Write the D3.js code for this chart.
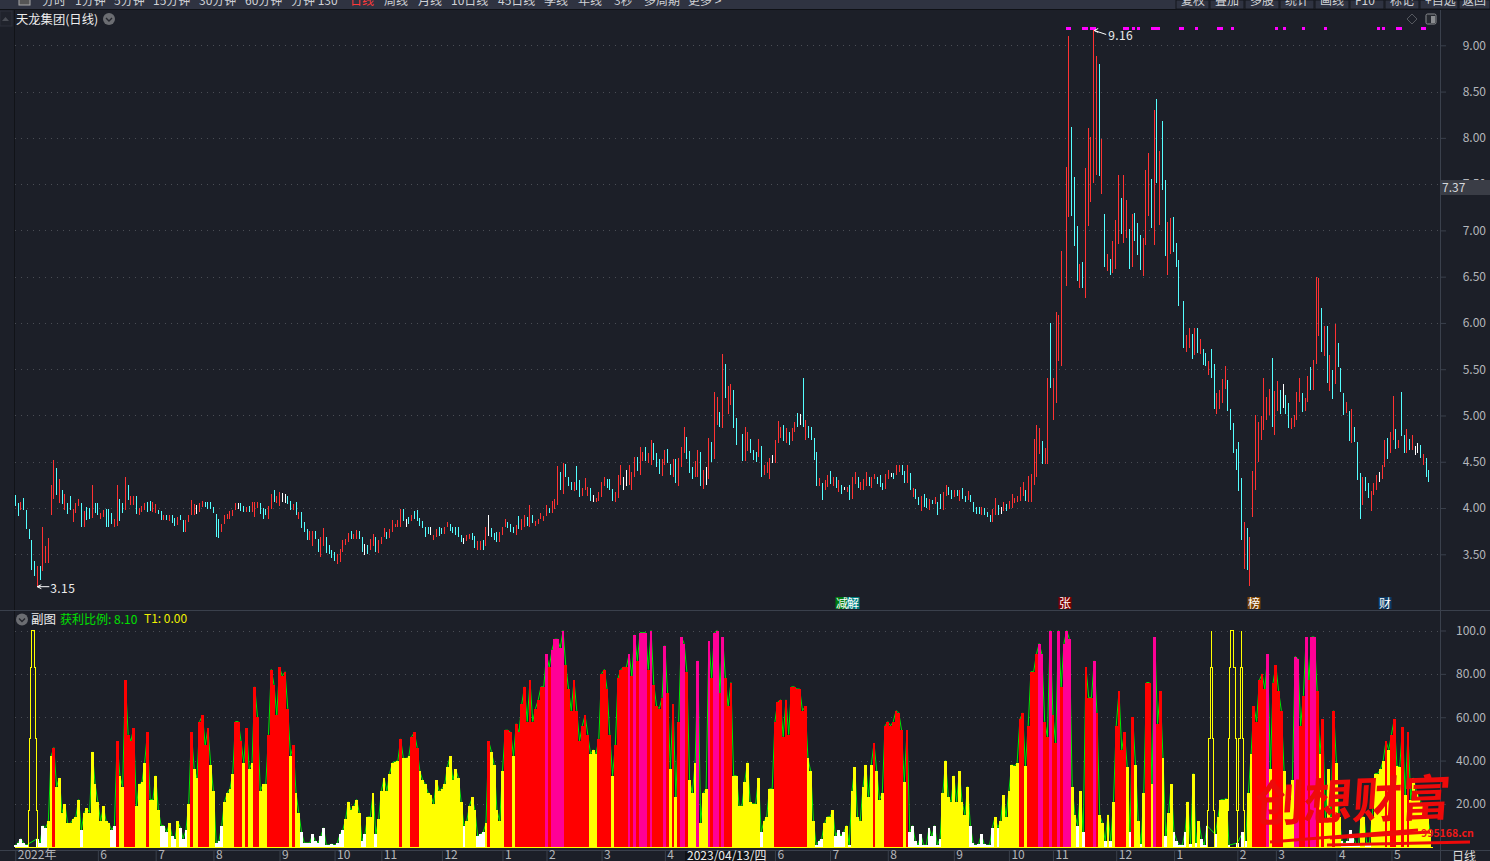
<!DOCTYPE html>
<html><head><meta charset="utf-8">
<script src="https://cdnjs.cloudflare.com/ajax/libs/d3/7.8.5/d3.min.js"></script>
<style>html,body{margin:0;padding:0;background:#1c1f28;overflow:hidden}text{font-family:"Noto Sans CJK SC","Noto Sans",sans-serif}</style>
</head><body><svg id="c" width="1490" height="861"></svg>
<script>
// [high, low, kind] r=up c=down w=flat
const candlesA=[[4.14,4.02,'c'],[4.05,3.91,'c'],[4.07,3.98,'r'],[4.11,3.98,'c'],[3.98,3.77,'c'],[3.77,3.66,'c'],[3.65,3.33,'c'],[3.43,3.27,'c'],[3.37,3.15,'r'],[3.37,3.22,'c'],
[3.79,3.32,'r'],[3.59,3.41,'r'],[3.68,3.41,'r'],[4.25,3.92,'r'],[4.52,4.10,'r'],[4.43,4.14,'c'],[4.31,4.05,'r'],[4.20,4.04,'c'],[4.15,3.98,'r'],[4.05,3.94,'c'],
[4.13,3.98,'c'],[3.99,3.85,'r'],[4.05,3.95,'r'],[4.10,4.02,'r'],[4.05,3.79,'c'],[3.97,3.80,'r'],[4.01,3.87,'c'],[4.00,3.88,'c'],[4.25,3.89,'r'],[4.05,3.95,'c'],
[4.05,3.92,'c'],[3.95,3.88,'r'],[3.98,3.90,'r'],[3.99,3.79,'c'],[3.99,3.79,'c'],[3.95,3.83,'c'],[3.88,3.80,'r'],[4.25,3.81,'r'],[4.10,3.86,'c'],[4.05,3.95,'c'],
[4.34,3.98,'r'],[4.25,4.09,'c'],[4.13,4.03,'r'],[4.13,4.03,'r'],[4.13,3.94,'c'],[4.00,3.93,'r'],[4.02,3.96,'r'],[4.05,3.98,'r'],[4.07,3.96,'c'],[4.08,3.97,'c'],
[4.06,3.96,'r'],[4.04,3.95,'r'],[3.98,3.94,'c'],[3.97,3.87,'c'],[3.93,3.87,'r'],[3.92,3.87,'c'],[3.93,3.86,'r'],[3.92,3.84,'c'],[3.89,3.81,'c'],[3.90,3.82,'r'],
[3.92,3.87,'c'],[3.87,3.74,'c'],[3.87,3.74,'r'],[3.93,3.85,'r'],[4.09,3.93,'r'],[4.04,3.93,'r'],[4.03,3.94,'w'],[4.05,3.96,'r'],[4.08,4.01,'r'],[4.07,4.01,'c'],
[4.06,3.99,'c'],[4.06,3.99,'c'],[4.01,3.95,'c'],[3.94,3.69,'c'],[3.88,3.68,'c'],[3.83,3.74,'r'],[3.92,3.83,'r'],[3.94,3.88,'r'],[3.97,3.88,'r'],[3.98,3.91,'r'],
[4.05,3.98,'r'],[4.05,3.99,'w'],[4.05,3.97,'c'],[4.02,3.96,'c'],[4.01,3.96,'r'],[4.02,3.96,'c'],[4.07,3.96,'r'],[4.07,3.90,'r'],[4.07,4.00,'r'],[4.05,3.94,'c'],
[4.00,3.88,'c'],[3.99,3.93,'c'],[4.02,3.88,'r'],[4.15,3.99,'r'],[4.19,4.06,'c'],[4.13,4.05,'r'],[4.17,4.02,'r'],[4.16,4.06,'w'],[4.15,4.05,'w'],[4.13,4.04,'c'],
[4.08,3.98,'c'],[4.04,3.98,'r'],[4.06,3.92,'c'],[3.96,3.88,'r'],[3.96,3.78,'c'],[3.85,3.74,'c'],[3.77,3.65,'c'],[3.75,3.65,'r'],[3.75,3.59,'r'],[3.75,3.66,'c'],
[3.67,3.52,'c'],[3.69,3.47,'r'],[3.78,3.59,'r'],[3.69,3.51,'c'],[3.60,3.50,'c'],[3.55,3.46,'c'],[3.52,3.43,'c'],[3.50,3.39,'r'],[3.56,3.42,'r'],[3.65,3.53,'r'],
[3.66,3.60,'r'],[3.73,3.63,'r'],[3.75,3.66,'c'],[3.72,3.66,'r'],[3.76,3.66,'r'],[3.75,3.66,'c'],[3.69,3.52,'c'],[3.61,3.49,'w'],[3.60,3.50,'c']];
const candlesB=[[3.66,3.55,'r'],[3.72,3.59,'r'],[3.69,3.53,'c'],[3.65,3.51,'r'],[3.69,3.61,'r'],[3.78,3.69,'r'],[3.74,3.67,'c'],[3.77,3.68,'r'],[3.87,3.74,'r'],[3.83,3.79,'r'],
[3.87,3.79,'r'],[3.99,3.79,'r'],[3.99,3.86,'c'],[3.88,3.80,'w'],[3.90,3.83,'c'],[3.92,3.86,'r'],[3.97,3.88,'c'],[3.98,3.86,'c'],[3.89,3.81,'c'],[3.86,3.78,'c'],
[3.80,3.69,'c'],[3.80,3.72,'c'],[3.79,3.71,'w'],[3.71,3.65,'r'],[3.77,3.69,'r'],[3.79,3.70,'c'],[3.78,3.72,'c'],[3.79,3.72,'r'],[3.85,3.79,'r'],[3.83,3.75,'c'],
[3.80,3.73,'c'],[3.79,3.71,'c'],[3.79,3.69,'c'],[3.71,3.63,'c'],[3.68,3.61,'w'],[3.71,3.64,'r'],[3.72,3.66,'r'],[3.73,3.65,'c'],[3.70,3.57,'c'],[3.64,3.55,'r'],
[3.64,3.55,'r'],[3.65,3.55,'c'],[3.79,3.59,'r'],[3.92,3.70,'w'],[3.78,3.69,'c'],[3.73,3.65,'c'],[3.74,3.63,'c'],[3.74,3.63,'r'],[3.80,3.71,'r'],[3.88,3.79,'r'],
[3.85,3.78,'c'],[3.83,3.74,'c'],[3.79,3.73,'c'],[3.82,3.71,'r'],[3.91,3.77,'c'],[3.88,3.76,'r'],[3.93,3.79,'r'],[3.90,3.81,'c'],[4.03,3.79,'r'],[3.92,3.84,'c'],
[3.86,3.81,'r'],[3.88,3.83,'r'],[3.95,3.88,'r'],[3.91,3.86,'r'],[4.03,3.91,'r'],[4.00,3.95,'c'],[4.08,3.95,'r'],[4.10,3.99,'r'],[4.45,4.03,'r'],[4.39,4.19,'c'],
[4.49,4.15,'r'],[4.48,4.33,'c'],[4.33,4.24,'c'],[4.28,4.20,'c'],[4.28,4.18,'r'],[4.45,4.19,'c'],[4.30,4.12,'c'],[4.22,4.13,'r'],[4.32,4.19,'r'],[4.23,4.13,'r'],
[4.22,4.08,'c'],[4.14,4.07,'w'],[4.11,4.06,'r'],[4.17,4.08,'r'],[4.28,4.12,'r'],[4.33,4.24,'r'],[4.31,4.22,'c'],[4.31,4.19,'c'],[4.21,4.08,'c'],[4.17,4.06,'r'],
[4.36,4.11,'r'],[4.46,4.25,'r'],[4.33,4.20,'w'],[4.41,4.24,'w'],[4.46,4.25,'r'],[4.39,4.20,'r'],[4.55,4.33,'r'],[4.55,4.40,'c'],[4.66,4.36,'r'],[4.61,4.51,'r'],
[4.66,4.51,'c'],[4.60,4.49,'r'],[4.73,4.46,'r'],[4.70,4.52,'c'],[4.59,4.44,'c'],[4.53,4.37,'c'],[4.53,4.35,'r'],[4.63,4.47,'r'],[4.64,4.49,'c'],[4.48,4.36,'c'],
[4.53,4.33,'r'],[4.53,4.27,'c'],[4.54,4.24,'r'],[4.66,4.44,'r'],[4.88,4.60,'r'],[4.77,4.53,'c'],[4.62,4.38,'c'],[4.44,4.31,'c'],[4.51,4.34,'r'],[4.63,4.34,'r'],
[4.61,4.24,'c'],[4.41,4.21,'r'],[4.44,4.25,'w'],[4.76,4.31,'r'],[4.71,4.50,'c'],[5.25,4.53,'r'],[5.20,4.90,'r'],[5.04,4.88,'c'],[5.66,4.86,'r'],[5.56,5.19,'c'],
[5.32,5.02,'r'],[5.34,5.11,'r'],[5.28,4.87,'c'],[4.97,4.68,'c']];
const candlesC=[[4.80,4.51,'c'],[4.88,4.51,'r'],[4.82,4.62,'r'],[4.75,4.60,'c'],[4.63,4.52,'c'],[4.61,4.50,'c'],[4.75,4.55,'r'],[4.67,4.33,'c'],[4.47,4.36,'r'],[4.50,4.38,'r'],
[4.54,4.31,'r'],[4.57,4.49,'w'],[4.74,4.49,'r'],[4.94,4.70,'r'],[4.88,4.76,'r'],[4.90,4.72,'c'],[4.87,4.70,'r'],[4.82,4.68,'c'],[4.87,4.72,'r'],[4.93,4.82,'r'],
[5.03,4.88,'c'],[5.02,4.90,'w'],[5.41,4.88,'c'],[4.95,4.74,'r'],[4.89,4.76,'c'],[4.88,4.74,'c'],[4.76,4.52,'c'],[4.61,4.24,'c'],[4.32,4.24,'r'],[4.27,4.09,'c'],
[4.30,4.19,'r'],[4.36,4.23,'r'],[4.40,4.26,'c'],[4.33,4.24,'r'],[4.34,4.22,'c'],[4.30,4.17,'r'],[4.25,4.15,'c'],[4.23,4.19,'w'],[4.23,4.17,'r'],[4.25,4.09,'c'],
[4.33,4.10,'r'],[4.39,4.26,'r'],[4.33,4.22,'c'],[4.28,4.20,'r'],[4.31,4.19,'r'],[4.39,4.24,'r'],[4.33,4.24,'c'],[4.33,4.22,'r'],[4.37,4.31,'r'],[4.34,4.26,'c'],
[4.36,4.23,'c'],[4.27,4.19,'c'],[4.37,4.21,'r'],[4.41,4.31,'r'],[4.38,4.33,'w'],[4.38,4.31,'c'],[4.47,4.36,'r'],[4.47,4.39,'r'],[4.47,4.36,'c'],[4.40,4.27,'c'],
[4.46,4.27,'r'],[4.38,4.20,'c'],[4.22,4.12,'r'],[4.21,4.10,'c'],[4.12,4.03,'c'],[4.13,3.97,'r'],[4.15,4.01,'c'],[4.11,4.00,'c'],[4.10,3.98,'r'],[4.09,4.04,'c'],
[4.12,4.04,'r'],[4.06,3.92,'c'],[4.15,3.99,'c'],[4.17,3.98,'r'],[4.25,4.13,'r'],[4.23,4.14,'c'],[4.19,4.10,'c'],[4.19,4.12,'r'],[4.19,4.13,'c'],[4.20,4.08,'r'],
[4.22,4.10,'c'],[4.13,4.06,'c'],[4.18,4.09,'r'],[4.14,4.06,'c'],[4.06,3.96,'c'],[4.01,3.94,'c'],[4.01,3.94,'c'],[4.01,3.92,'r'],[4.00,3.92,'c'],[3.96,3.90,'c'],
[3.93,3.85,'c'],[3.99,3.85,'r'],[4.11,3.92,'r'],[4.03,3.93,'c'],[4.01,3.94,'w'],[4.06,3.97,'r'],[4.04,3.97,'c'],[4.08,3.99,'r'],[4.15,4.00,'r'],[4.11,4.05,'r'],
[4.13,4.06,'r'],[4.23,4.08,'r'],[4.28,4.13,'r'],[4.19,4.08,'c'],[4.35,4.06,'r'],[4.37,4.06,'r'],[4.75,4.25,'r'],[4.90,4.34,'r'],[4.86,4.58,'r'],[4.72,4.48,'c'],
[4.65,4.48,'r'],[5.40,4.48,'r'],[6.00,5.30,'c'],[5.40,4.95,'r'],[6.12,5.14,'r'],[6.09,5.59,'r'],[6.78,5.54,'r']];
const candlesD=[[7.69,6.40,'r'],[9.10,7.15,'r'],[8.12,7.16,'c'],[7.58,6.83,'c'],[7.05,6.45,'c'],[6.64,6.38,'r'],[6.66,6.38,'c'],[7.67,6.27,'r'],[8.11,7.05,'r'],[8.01,7.31,'r'],
[9.16,7.51,'r'],[8.88,7.60,'r'],[8.80,7.59,'c'],[7.99,7.39,'r'],[7.18,6.60,'c'],[6.74,6.56,'r'],[6.69,6.52,'c'],[6.89,6.54,'r'],[7.11,6.58,'r'],[7.60,6.85,'r'],
[7.35,6.96,'c'],[7.60,6.86,'r'],[7.33,6.92,'r'],[7.01,6.58,'c'],[7.18,6.60,'r'],[7.19,6.89,'c'],[7.08,6.73,'c'],[6.95,6.57,'c'],[6.92,6.51,'r'],[7.65,6.84,'r'],
[7.84,7.16,'r'],[7.56,7.03,'c'],[8.30,6.84,'r'],[8.42,7.51,'c'],[7.86,7.06,'r'],[8.18,7.44,'c'],[7.54,6.72,'c'],[7.09,6.52,'r'],[7.13,6.74,'r'],[7.14,6.77,'c'],
[6.86,6.60,'c'],[6.68,6.18,'c']];
const candlesE=[[6.24,5.73,'c'],[5.87,5.69,'r'],[5.95,5.73,'r'],[5.88,5.61,'c'],[5.94,5.65,'r'],[5.95,5.67,'c'],[5.83,5.66,'r'],[5.72,5.55,'c'],
[5.68,5.53,'c'],[5.59,5.44,'r'],[5.72,5.41,'c'],[5.56,5.07,'c'],[5.24,5.02,'r'],[5.27,5.07,'r'],[5.39,5.14,'r'],[5.54,5.29,'r'],[5.38,5.05,'c'],[5.07,4.84,'c'],
[4.92,4.59,'c'],[4.64,4.41,'c'],[4.71,4.18,'c'],[4.32,3.65,'c'],[3.85,3.34,'r'],[3.78,3.33,'c'],[3.69,3.16,'r'],[4.40,3.90,'r'],[5.00,4.20,'r'],[4.93,4.50,'r'],
[4.99,4.74,'r'],[5.41,4.84,'r'],[5.20,4.95,'r'],[5.29,5.00,'r'],[5.62,4.88,'c'],[5.26,4.79,'r'],[5.37,5.05,'r'],[5.27,5.02,'c'],[5.34,5.08,'w'],[5.22,5.02,'c'],
[5.13,4.86,'c'],[4.97,4.85,'r'],[5.00,4.88,'r'],[5.25,4.95,'r'],[5.41,5.15,'r'],[5.24,5.04,'c'],[5.19,5.05,'r'],[5.43,5.15,'r'],[5.52,5.28,'c'],[5.60,5.28,'r'],
[6.50,5.56,'r'],[6.49,5.86,'r'],[6.16,5.69,'c'],[5.97,5.64,'r'],[5.97,5.35,'c'],[5.65,5.26,'r'],[5.49,5.18,'c'],[5.99,5.34,'r'],[5.78,5.52,'c'],[5.51,5.25,'c'],
[5.24,5.01,'c'],[5.15,5.03,'r'],[5.05,4.72,'c'],[5.07,4.70,'r'],[4.88,4.71,'c'],[4.71,4.30,'c'],[4.38,3.88,'c'],[4.33,4.03,'r'],[4.33,4.18,'c'],[4.27,4.11,'c'],
[4.18,3.97,'r'],[4.27,4.14,'r'],[4.36,4.19,'r'],[4.39,4.28,'w'],[4.47,4.31,'r'],[4.74,4.44,'r'],[4.76,4.53,'c'],[4.82,4.59,'r'],[5.21,4.74,'r'],[4.85,4.64,'c'],
[4.74,4.65,'r'],[5.25,4.78,'c'],[4.79,4.60,'c'],[4.85,4.60,'r'],[4.75,4.63,'c'],[4.79,4.63,'r'],[4.67,4.57,'w'],[4.70,4.59,'w'],[4.68,4.54,'c'],[4.58,4.46,'r'],
[4.54,4.34,'c'],[4.41,4.28,'c']];
const candleSectionStart=[0,129,264.2,381.8,424.6];

// [profit ratio, band] w=low y=middle r=high m=top
const profitA=[[1,'w'],[2,'w'],[4,'w'],[2,'w'],[1,'w'],[0,'w'],[0,'w'],[0,'w'],[4,'w'],[2,'w'],
[10,'w'],[9,'w'],[12,'y'],[42,'y'],[46,'r'],[28,'y'],[32,'y'],[16,'y'],[20,'y'],[11,'y'],
[11,'y'],[13,'y'],[14,'y'],[22,'y'],[8,'w'],[16,'y'],[18,'y'],[16,'y'],[44,'y'],[29,'y'],
[21,'y'],[12,'y'],[19,'y'],[12,'y'],[11,'y'],[8,'w'],[10,'w'],[49,'r'],[33,'y'],[28,'y'],
[77,'r'],[52,'r'],[49,'r'],[55,'r'],[19,'y'],[29,'y'],[30,'y'],[39,'y'],[53,'r'],[22,'y'],
[22,'y'],[33,'y'],[17,'y'],[10,'w'],[10,'w'],[7,'w'],[11,'y'],[5,'w'],[4,'w'],[12,'y'],
[9,'w'],[4,'w'],[8,'w'],[20,'y'],[53,'r'],[36,'y'],[32,'y'],[58,'r'],[61,'r'],[47,'r'],
[55,'r'],[38,'y'],[26,'y'],[2,'w'],[3,'w'],[10,'w'],[21,'y'],[25,'y'],[27,'y'],[34,'y'],
[58,'r'],[58,'r'],[49,'r'],[39,'y'],[55,'r'],[36,'y'],[39,'y'],[74,'r'],[60,'r'],[26,'y'],
[29,'y'],[29,'y'],[52,'r'],[82,'r'],[75,'r'],[61,'r'],[83,'r'],[79,'r'],[81,'r'],[64,'r'],
[42,'y'],[47,'r'],[25,'y'],[16,'y'],[7,'w'],[2,'w'],[2,'w'],[2,'w'],[6,'w'],[3,'w'],
[2,'w'],[5,'w'],[9,'w'],[1,'w'],[1,'w'],[1.5,'w'],[1,'w'],[2,'w'],[6,'w'],[8,'w'],
[13,'y'],[21,'y'],[17,'y'],[19,'y'],[22,'y'],[16,'y'],[3,'w'],[6,'w'],[14,'y']];
const profitB=[[14,'y'],[25,'y'],[6,'w'],[13,'y'],[26,'y'],[32,'y'],[26,'y'],[34,'y'],[39,'y'],[39.5,'y'],
[40,'y'],[50,'r'],[41,'y'],[41,'y'],[42,'y'],[51,'r'],[53,'r'],[46,'r'],[35,'y'],[31,'y'],
[29,'y'],[25,'y'],[24,'y'],[20,'y'],[31,'y'],[26,'y'],[27,'y'],[29,'y'],[37,'y'],[42,'y'],
[31,'y'],[36,'y'],[32,'y'],[21,'y'],[10,'w'],[12,'y'],[19,'y'],[23,'y'],[17,'y'],[5,'w'],
[6,'w'],[7,'w'],[11,'y'],[49,'r'],[44,'y'],[38,'y'],[17,'y'],[12,'y'],[35,'y'],[54,'r'],
[54,'r'],[53,'r'],[42,'y'],[57,'r'],[53,'r'],[66,'r'],[74,'r'],[58,'r'],[77,'r'],[58,'r'],
[64,'r'],[68,'r'],[74,'r'],[74,'r'],[89,'m'],[83,'r'],[91,'m'],[96,'m'],[96,'m'],[92,'m'],
[100,'m'],[84,'r'],[73,'r'],[63,'r'],[77,'r'],[63,'r'],[49,'r'],[56,'r'],[61,'r'],[52,'r'],
[43,'y'],[45,'y'],[43,'y'],[50,'r'],[80,'r'],[82,'r'],[73,'r'],[52,'r'],[33,'y'],[47,'r'],
[78,'r'],[82,'r'],[83,'r'],[83,'r'],[89,'m'],[79,'r'],[98,'m'],[86,'r'],[99,'m'],[99,'m'],
[99,'m'],[82,'r'],[100,'m'],[75,'r'],[65,'r'],[64,'r'],[69,'r'],[93,'m'],[71,'r'],[36,'y'],
[66,'r'],[23,'y'],[58,'r'],[97,'m'],[94,'m'],[81,'r'],[31,'y'],[25,'y'],[39,'y'],[86,'m'],
[11,'y'],[25,'y'],[27,'y'],[95,'m'],[78,'r'],[99,'m'],[100,'m'],[71,'r'],[97,'m'],[78,'r'],
[65,'r'],[76,'r'],[33,'y'],[33,'y']];
const profitC=[[19,'y'],[19,'y'],[30,'y'],[39,'y'],[21,'y'],[20,'y'],[20,'y'],[32,'y'],[7,'w'],[12,'y'],
[14,'y'],[27,'y'],[27,'y'],[58,'r'],[67,'r'],[68,'r'],[51,'r'],[68,'r'],[52,'r'],[74,'r'],
[74,'r'],[73,'r'],[73,'r'],[63,'r'],[65,'r'],[41,'y'],[35,'y'],[12,'y'],[1,'w'],[3,'w'],
[4,'w'],[11,'y'],[14,'y'],[14,'y'],[17,'y'],[5,'w'],[8,'w'],[5,'w'],[7,'w'],[10,'y'],
[1,'w'],[26,'y'],[37,'y'],[14,'y'],[12,'y'],[28,'y'],[38,'y'],[23,'y'],[38,'y'],[48,'r'],
[35,'y'],[22,'y'],[25,'y'],[56,'r'],[58,'r'],[56,'r'],[58,'r'],[63,'r'],[62,'r'],[54,'r'],
[30,'y'],[54,'r'],[7,'w'],[10,'w'],[3,'w'],[1,'w'],[6,'w'],[1,'w'],[1,'w'],[9,'w'],
[5,'w'],[10,'w'],[1,'w'],[4,'w'],[25,'y'],[40,'y'],[23,'y'],[21,'y'],[33,'y'],[21,'y'],
[35,'y'],[21,'y'],[15,'y'],[28,'y'],[10,'w'],[2,'w'],[1,'w'],[1.5,'w'],[6,'w'],[1.5,'w'],
[1,'w'],[1,'w'],[9,'w'],[14,'y'],[9,'w'],[12,'y'],[24,'y'],[14,'y'],[26,'y'],[38,'y'],
[37.5,'y'],[39,'y'],[59,'r'],[62,'r'],[37.5,'y'],[56,'r'],[81,'r'],[81,'r'],[89,'r'],[94,'m'],
[89,'m'],[58,'r'],[51,'r'],[100,'m'],[61,'r'],[48,'r'],[100,'m'],[74,'r'],[94,'m'],[100,'m'],
[96,'m'],[28,'y'],[15,'y'],[10,'w'],[26,'y'],[7,'w'],[83,'r'],[69,'r'],[69,'r'],[86,'m'],
[62,'r'],[15,'y'],[11,'y'],[3,'w'],[15,'y']];
const profitD=[[3,'w'],[21,'y'],[56,'r'],[72,'r'],[45,'r'],[53,'r'],[37,'y'],[7,'w'],[60,'r'],[38,'y'],
[12,'y'],[1.5,'w'],[25,'y'],[76,'r'],[76,'r'],[29,'y'],[97,'m'],[57,'r'],[72,'r'],[41,'y'],
[5,'w'],[16,'y'],[29,'y'],[7,'w'],[3,'w'],[1,'w'],[1,'w'],[7,'w'],[21,'y'],[1.5,'w'],
[34,'y'],[2,'w'],[12,'y'],[4,'w'],[1,'w'],[10,'w'],[0,'w'],[0,'w'],[6,'w'],[14,'y'],
[22,'y'],[22,'y'],[22.5,'y'],[1,'w'],[0,'w'],[0,'w'],[2,'w'],[0,'w'],[7,'w'],[3,'w'],
[25,'y'],[43,'y'],[65,'r'],[58,'r'],[77,'r'],[80,'r'],[73,'r'],[89,'m'],[36,'y'],[76,'r'],
[84,'r'],[72,'r'],[63,'r'],[35,'y'],[17,'y'],[22,'y'],[31,'y'],[88,'m'],[87,'m'],[56,'r'],
[70,'r'],[97,'m'],[77,'r'],[97,'m'],[97,'m'],[72,'r'],[43,'y'],[59,'r'],[13,'y'],[36,'y'],
[14,'y'],[63,'r'],[39,'y'],[14,'y'],[3,'w'],[2,'w'],[3,'w'],[8,'w'],[5,'w'],[2,'w'],
[1,'w'],[14,'y'],[14,'y'],[2,'w'],[2,'w'],[14,'y'],[34,'y'],[34,'y'],[36,'y'],[40,'y'],
[49,'r'],[45,'y'],[52,'r'],[59,'r'],[37.5,'y'],[37,'y'],[55.5,'r'],[24,'y'],[53,'r'],[22,'y'],
[32,'y'],[26,'y'],[23,'y'],[20,'y'],[17,'y'],[14,'y'],[8,'y']];
const profitSectionStart=[0,129,263,398];

const profitTowers=[6.4,434.5,442.1,445.4];
const towerLevels=[100,83,50,17];
const priceTicks=[9,8.5,8,7.5,7,6.5,6,5.5,5,4.5,4,3.5];
const profitTicks=[100,80,60,40,20];
const signalBars=[382,383,388,389,391,392,403,404,406,408,413,414,415,423,424,429,437,438,442,458,461,468,476,495,497,502,503,511,512];
const monthLabels=["2022年","6","7","8","9","10","11","12","1","2","3","4","6","7","8","9","10","11","12","1","2","3","4","5"];
const monthBars=[0,30,51,72,96,116,133,155,177,193,213,236,276,296,317,341,361,377,400,421,444,458,480,500];
const menuLeft=["分时","1分钟","5分钟","15分钟","30分钟","60分钟","分钟 130","日线","周线","月线","10日线","45日线","季线","年线","3秒","多周期","更多 >"];
const menuLeftX=[42,75,114,153,199,245,291,350,384,418,451,498,544,578,614,644,688];
const menuRight=["复权","叠加","多股","统计","画线","F10","标记","+自选","返回"];
const menuRightX=[1177,1211,1246,1281,1316,1351,1386,1421,1460];
const newsTags=[["减",842,"#007a10"],["解",853,"#007f80"],["张",1065,"#7c0000"],["榜",1254,"#7c4200"],["财",1385,"#0b3a66"]];

const svg=d3.select("#c");
const BG="#1c1f28",LINE="#3a404c",DOT="#4a4d55",AX="#b4b6bb";
svg.append("rect").attr("width",1490).attr("height",861).attr("fill",BG);

const x=d3.scaleLinear().domain([0,514]).range([15.3,1430]);
const yP=d3.scaleLinear().domain([3.5,9]).range([554.3,45.3]);
const yS=d3.scaleLinear().domain([0,100]).range([847.3,630.5]);

// frame
svg.append("rect").attr("x",0).attr("y",0).attr("width",1490).attr("height",9).attr("fill","#2f3341");
svg.append("line").attr("x1",0).attr("x2",1490).attr("y1",9.5).attr("y2",9.5).attr("stroke","#0f1116");
svg.append("line").attr("x1",14.5).attr("x2",14.5).attr("y1",10).attr("y2",849).attr("stroke","#111318");
svg.append("line").attr("x1",1440.5).attr("x2",1440.5).attr("y1",10).attr("y2",861).attr("stroke",LINE);
svg.append("line").attr("x1",0).attr("x2",1490).attr("y1",610.5).attr("y2",610.5).attr("stroke",LINE);
svg.append("line").attr("x1",0).attr("x2",1490).attr("y1",850.5).attr("y2",850.5).attr("stroke",LINE);

// toolbar
const tb=svg.append("g");
tb.selectAll("rect.b").data(menuRightX).join("rect").attr("x",d=>d-1).attr("y",0).attr("width",(d,i)=>(i<8?menuRightX[i+1]-d-1:31)).attr("height",9).attr("fill","#2f3341").attr("stroke","#15171d").attr("stroke-width",1);
tb.selectAll("text.l").data(menuLeft).join("text").attr("x",(d,i)=>menuLeftX[i]).attr("y",5).attr("font-size",12).attr("fill",d=>d==="日线"?"#ff3a3a":"#d0d2d6").text(d=>d);
tb.selectAll("text.r").data(menuRight).join("text").attr("x",(d,i)=>menuRightX[i]+(i<8?4:2)).attr("y",5).attr("font-size",12).attr("fill","#d0d2d6").text(d=>d);
tb.append("rect").attr("x",19).attr("y",-3).attr("width",11).attr("height",8).attr("fill","#555").attr("stroke","#aaa");
svg.append("rect").attr("x",0).attr("y",11).attr("width",12).attr("height",15).attr("fill","#20232c").attr("stroke","#2c303a");
svg.append("path").attr("d","M2 21 L5.5 17 L9 21 Z").attr("fill","#4a4d55");

// grids
const dotted=(g,ys)=>g.selectAll("line").data(ys).join("line").attr("x1",15).attr("x2",1440).attr("y1",d=>Math.round(d)+.5).attr("y2",d=>Math.round(d)+.5).attr("stroke",DOT).attr("stroke-dasharray","1 5");
dotted(svg.append("g"),priceTicks.map(yP));
dotted(svg.append("g"),profitTicks.map(yS));

// axes
const styleAxis=g=>{g.select(".domain").remove();g.selectAll("line").attr("stroke",LINE);g.selectAll("text").attr("fill",AX).attr("font-size",12).attr("text-anchor","end").attr("x",45).attr("font-family","Liberation Sans,Noto Sans,sans-serif");};
svg.append("g").attr("transform","translate(1441,0)").call(d3.axisRight(yP).tickValues(priceTicks).tickFormat(d3.format(".2f")).tickSize(5)).call(styleAxis);
svg.append("g").attr("transform","translate(1441,0)").call(d3.axisRight(yS).tickValues(profitTicks).tickFormat(d=>d===100?"100.0":d3.format(".2f")(d)).tickSize(5)).call(styleAxis);
svg.append("rect").attr("x",1441).attr("y",180).attr("width",49).attr("height",15).attr("fill","#3a3d46");
svg.append("text").attr("x",1442).attr("y",192).attr("font-size",12).attr("fill","#d6d8dc").attr("font-family","Liberation Sans,sans-serif").text("7.37");

// candles
const KC={r:"#ff3232",c:"#54ffff",w:"#ffffff"};
const candleRows=[candlesA,candlesB,candlesC,candlesD,candlesE].flatMap((s,k)=>s.map((d,j)=>({i:candleSectionStart[k]+j,h:d[0],l:d[1],k:d[2]})));
svg.append("g").attr("shape-rendering","crispEdges").selectAll("rect").data(candleRows).join("rect")
 .attr("x",d=>Math.floor(x(d.i))).attr("width",1)
 .attr("y",d=>yP(d.h)).attr("height",d=>yP(d.l)-yP(d.h)).attr("fill",d=>KC[d.k]);

// signal dashes
svg.append("g").attr("shape-rendering","crispEdges").selectAll("rect").data(signalBars).join("rect")
 .attr("x",d=>Math.round(x(d))-1).attr("width",3).attr("y",27).attr("height",3).attr("fill","#ff00ff");

// high / low annotations
const note=(i,p,dx,dy,ty,label)=>{const px=x(i),py=yP(p);
 svg.append("path").attr("d",`M${px+12} ${py+dy} L${px} ${py} M${px} ${py} l4 -2 M${px} ${py} l4 2`).attr("stroke","#fff").attr("fill","none");
 svg.append("text").attr("x",px+dx).attr("y",py+ty).attr("font-size",12).attr("fill","#eee").attr("font-family","Liberation Sans,sans-serif").attr("letter-spacing",".4").text(label);};
note(8,3.15,13,0,6,"3.15");
note(392,9.16,14,4,9.5,"9.16");

// news tags
const tags=svg.append("g");
tags.selectAll("rect").data(newsTags).join("rect").attr("x",d=>d[1]-6.5).attr("y",597).attr("width",13).attr("height",12).attr("fill",d=>d[2]);
tags.selectAll("text").data(newsTags).join("text").attr("x",d=>d[1]).attr("y",607.5).attr("text-anchor","middle").attr("font-size",12).attr("fill","#fff").text(d=>d[0]);

// titles
svg.append("text").attr("x",16).attr("y",24).attr("font-size",12.3).attr("fill","#eee").text("天龙集团(日线)");
const chev=(cx,cy)=>{svg.append("circle").attr("cx",cx).attr("cy",cy).attr("r",6).attr("fill","#6b6d72");svg.append("path").attr("d",`M${cx-3} ${cy-1} L${cx} ${cy+2} L${cx+3} ${cy-1}`).attr("stroke","#25272e").attr("stroke-width",1.4).attr("fill","none");};
chev(109,19);chev(22,619.5);
svg.append("text").attr("x",31).attr("y",624).attr("font-size",12.5).attr("fill","#eee").text("副图");
svg.append("text").attr("x",60).attr("y",624).attr("font-size",12).attr("fill","#00e000").text("获利比例: 8.10");
svg.append("text").attr("x",144).attr("y",623).attr("font-size",12).attr("fill","#f0f000").attr("font-family","Liberation Sans,sans-serif").text("T1: 0.00");
svg.append("path").attr("d","M1412 14 L1417 19 L1412 24 L1407 19 Z").attr("fill","none").attr("stroke","#55585f");
svg.append("rect").attr("x",1426).attr("y",14).attr("width",10).attr("height",10).attr("rx",1.5).attr("fill","#25282f").attr("stroke","#8a8c90");
svg.append("rect").attr("x",1431).attr("y",16).attr("width",4).attr("height",7).attr("fill","#8a8c90");

// profit panel
const profitRows=[profitA,profitB,profitC,profitD].flatMap((s,k)=>s.map((d,j)=>({i:profitSectionStart[k]+j,v:d[0],k:d[1]})));
const PC={w:"#ffffff",y:"#ffff00",r:"#ff0000",m:"#ff0096"};
svg.append("path").datum(profitRows.filter(d=>d.v>0)).attr("fill","none").attr("stroke","#00e800").attr("stroke-width",1)
 .attr("d",d3.line().x(d=>x(d.i)).y(d=>yS(d.v)));
svg.append("g").attr("shape-rendering","crispEdges").selectAll("rect").data(profitRows.filter(d=>d.v>0)).join("rect")
 .attr("x",d=>x(d.i)-1.38).attr("width",2.76).attr("y",d=>yS(d.v)).attr("height",d=>yS(0)-yS(d.v)).attr("fill",d=>PC[d.k]);
svg.append("rect").attr("x",15).attr("y",847).attr("width",1418).attr("height",1).attr("fill","#ffff00");

// hollow towers
const towerTop=[2.3,0,3.6,0];
profitTowers.forEach((c,t)=>{
 let left=[],right=[];
 towerLevels.forEach((lv,n)=>{const w=towerTop[t]/2+n*1.1,nextY=n<3?yS(towerLevels[n+1]):yS(0);
  left.push([x(c)-w,yS(lv)],[x(c)-w,nextY]);right.push([x(c)+w,yS(lv)],[x(c)+w,nextY]);});
 const pts=left.reverse().concat(right);
 svg.append("path").attr("d",d3.line()(pts)).attr("fill","none").attr("stroke","#ffff00").attr("stroke-width",1).attr("shape-rendering","crispEdges");
});

// bottom axis
svg.append("rect").attr("x",0).attr("y",851).attr("width",1440).attr("height",10).attr("fill",BG);
const bx=d3.axisBottom(x).tickValues(monthBars).tickFormat((d,i)=>monthLabels[i]).tickSize(0);
const gb=svg.append("g").attr("transform","translate(0,851)").call(bx);
gb.select(".domain").remove();
gb.selectAll(".tick text").attr("fill",AX).attr("font-size",12).attr("text-anchor","start").attr("dx",2).attr("y",8).attr("dy",0).attr("font-family","Noto Sans CJK SC,sans-serif");
gb.selectAll(".tick").append("line").attr("y1",0).attr("y2",10).attr("stroke",LINE);
svg.append("rect").attr("x",685).attr("y",851).attr("width",79).attr("height",10).attr("fill","#101216");
svg.append("text").attr("x",687).attr("y",860).attr("font-size",12).attr("fill","#eee").text("2023/04/13/四");
svg.append("text").attr("x",1452).attr("y",861).attr("font-size",12).attr("fill","#ddd").text("日线");

// watermark
const wm=svg.append("g");
wm.append("text").attr("x",1250).attr("y",822).attr("font-size",49).attr("font-weight",700).attr("fill","#ee0a0a").attr("transform","rotate(-2 1250 822) skewX(-6)").attr("dx",90).text("创想财富");
wm.selectAll("path").data(["M1270 842 L1418 830","M1327 845 L1470 842","M1330 838 L1430 832"]).join("path").attr("d",d=>d).attr("stroke","#ee0a0a").attr("stroke-width",3).attr("fill","none");
wm.append("text").attr("x",1421).attr("y",837).attr("font-size",10.5).attr("font-weight",700).attr("fill","#f01818").attr("font-family","Liberation Sans,sans-serif").text("995168.cn");
</script></body></html>
